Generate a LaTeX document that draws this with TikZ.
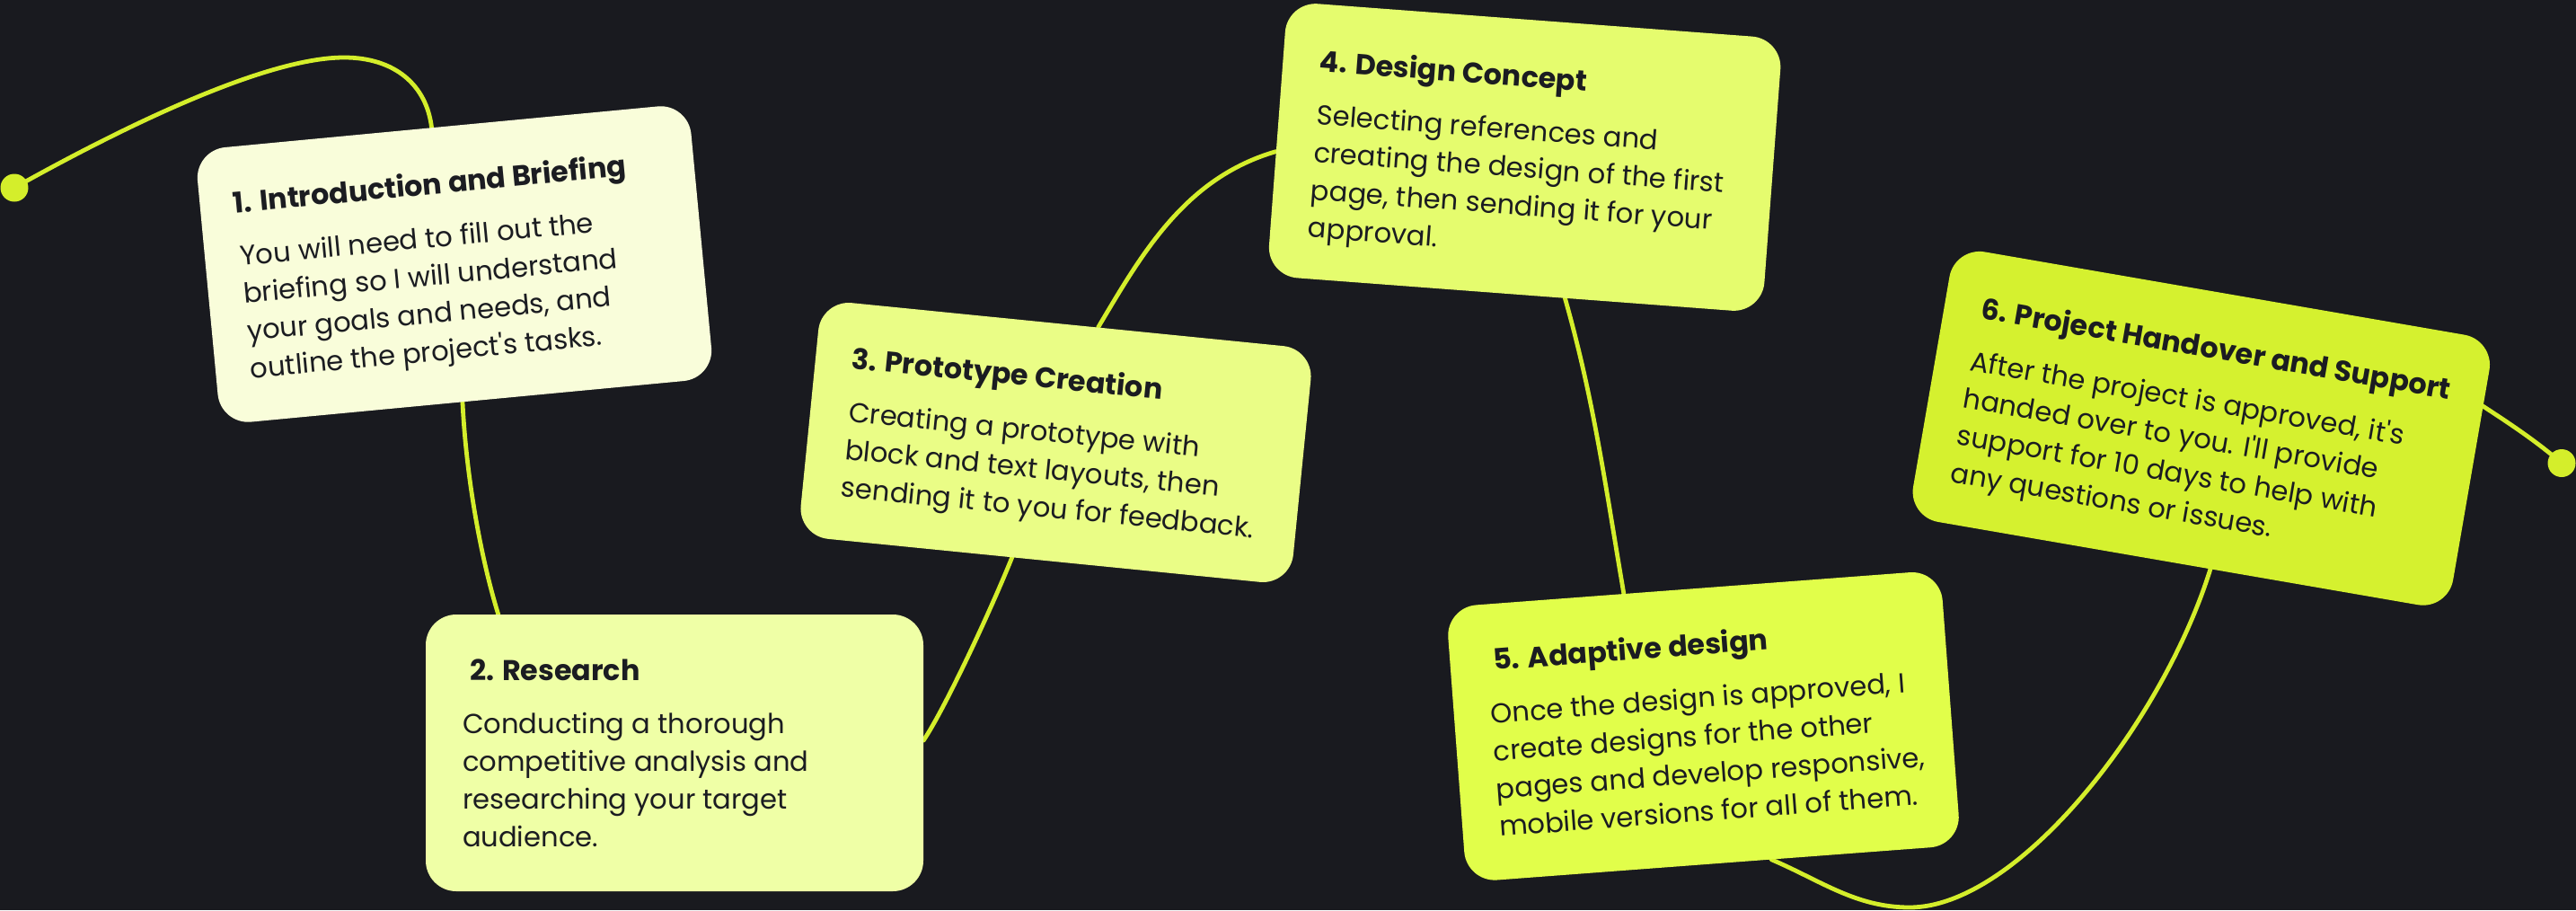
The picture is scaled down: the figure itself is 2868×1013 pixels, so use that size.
\documentclass[tikz,border=0pt]{standalone}
\usepackage{fontspec}
\setmainfont{Poppins}
\usetikzlibrary{calc}

\definecolor{canvas}{HTML}{191A1F}
\definecolor{wire}{HTML}{D4EE2B}
\definecolor{ink}{HTML}{1B1C21}
\definecolor{cardA}{HTML}{F9FDDA}
\definecolor{cardB}{HTML}{EFFFA6}
\definecolor{cardC}{HTML}{EAFD86}
\definecolor{cardD}{HTML}{E5FC6E}
\definecolor{cardE}{HTML}{E1FE4A}
\definecolor{cardF}{HTML}{D5F12F}

\pgfdeclarelayer{ground}
\pgfdeclarelayer{wires}
\pgfsetlayers{ground,wires,main}

% type sizes are derived from the widths the lines should occupy
\newlength\probe
\newlength\copysum
\newlength\headsum
\newcommand\addcopy[1]{\settowidth\probe{\fontsize{50}{50}\selectfont #1}\addtolength\copysum{\probe}}
\newcommand\addhead[1]{\settowidth\probe{\fontsize{50}{50}\selectfont\bfseries #1}\addtolength\headsum{\probe}}

% heading and copy of one card; baseline of the box = baseline of the heading
% #1 heading indent, #2 heading, #3 copy lines
\newcommand\cardtext[3]{\parbox[t]{540pt}{\raggedright
  \hspace*{#1}{\fontsize{\headsize}{\headsize}\selectfont\bfseries #2}\par
  \vskip 17pt
  {\fontsize{\copysize}{42}\selectfont #3\par}}}

\tikzset{
  card/.style={fill=#1, rounded corners=34pt, inner sep=0pt},
  cardcopy/.style={anchor=base west, inner sep=0pt, transform shape, text=ink},
  wire/.style={draw=wire, line width=4.8pt, line cap=round},
  knob/.style={circle, fill=wire, minimum size=31pt, inner sep=0pt},
}

\begin{document}
\setlength\copysum{0pt}\setlength\headsum{0pt}
\addcopy{Conducting a thorough}
\addcopy{competitive analysis and}
\addcopy{briefing so I will understand}
\addcopy{sending it to you for feedback.}
\addcopy{creating the design of the first}
\addcopy{pages and develop responsive,}
\addcopy{After the project is approved, it\textquotesingle s}
\addhead{1. Introduction and Briefing}
\addhead{2. Research}
\addhead{3. Prototype Creation}
\addhead{4. Design Concept}
\addhead{5. Adaptive design}
\addhead{6. Project Handover and Support}
\pgfmathsetmacro\copysize{3050.5/\the\copysum*50}
\pgfmathsetmacro\headsize{2112.5/\the\headsum*50}
\begin{tikzpicture}[x=1pt, y=-1pt]
  \begin{pgfonlayer}{ground}
    \fill[canvas] (0,0) rectangle (2868,1013);
  \end{pgfonlayer}
  \useasboundingbox (0,0) rectangle (2868,1013);

  % cards
  \node[card=cardA, minimum width=552pt, minimum height=307pt, rotate=5.4] (c1) at (506,294) {};
  \node[card=cardB, minimum width=554pt, minimum height=308pt] (c2) at (751,838) {};
  \node[card=cardC, minimum width=551pt, minimum height=264pt, rotate=-5.7] (c3) at (1175.5,492.5) {};
  \node[card=cardD, minimum width=553pt, minimum height=306pt, rotate=-4.3] (c4) at (1697.6,175) {};
  \node[card=cardE, minimum width=552pt, minimum height=307pt, rotate=4.3] (c5) at (1896.5,808.3) {};
  \node[card=cardF, minimum width=610pt, minimum height=305pt, rotate=-9.8] (c6) at (2450.8,476.8) {};

  % card texts, set in each card's own frame
  \begin{scope}[shift={(c1.north west)}, rotate=5.4]
    \node[cardcopy] (t1) at (39,74) {\cardtext{-2pt}{1. Introduction and Briefing}{You will need to fill out the\\briefing so I will understand\\your goals and needs, and\\outline the project\textquotesingle s tasks.}};
  \end{scope}
  \begin{scope}[shift={(c2.north west)}]
    \node[cardcopy] (t2) at (41,74) {\cardtext{8pt}{2. Research}{Conducting a thorough\\competitive analysis and\\researching your target\\audience.}};
  \end{scope}
  \begin{scope}[shift={(c3.north west)}, rotate=-5.7]
    \node[cardcopy] (t3) at (43,73) {\cardtext{-3pt}{3. Prototype Creation}{Creating a prototype with\\block and text layouts, then\\sending it to you for feedback.}};
  \end{scope}
  \begin{scope}[shift={(c4.north west)}, rotate=-4.3]
    \node[cardcopy] (t4) at (42,75) {\cardtext{-1pt}{4. Design Concept}{Selecting references and\\creating the design of the first\\page, then sending it for your\\approval.}};
  \end{scope}
  \begin{scope}[shift={(c5.north west)}, rotate=4.3]
    \node[cardcopy] (t5) at (41,74) {\cardtext{7pt}{5. Adaptive design}{Once the design is approved, I\\create designs for the other\\pages and develop responsive,\\mobile versions for all of them.}};
  \end{scope}
  \begin{scope}[shift={(c6.north west)}, rotate=-9.8]
    \node[cardcopy] (t6) at (39,74) {\cardtext{2pt}{6. Project Handover and Support}{After the project is approved, it\textquotesingle s\\handed over to you. I\textquotesingle ll provide\\support for 10 days to help with\\any questions or issues.}};
  \end{scope}

  % end points of the thread
  \node[knob] (dotL) at (16,209) {};
  \node[knob] (dotR) at (2852,515.5) {};

  % the thread, running behind the cards
  \begin{pgfonlayer}{wires}
    \draw[wire] (dotL.center) .. controls (150,134) and (300,64) .. (383,64)
      .. controls (440,64) and (475,95) .. ($(c1.north west)!0.48!(c1.north east)$);
    \draw[wire] ($(c1.south west)!0.49!(c1.south east)$) .. controls (519,530) and (535,620)
      .. ($(c2.north west)!0.146!(c2.north east)$);
    \draw[wire] ($(c2.north east)!0.455!(c2.south east)$) .. controls (1053,787) and (1104,677)
      .. ($(c3.south west)!0.435!(c3.south east)$);
    \draw[wire] ($(c3.north west)!0.562!(c3.north east)$) .. controls (1271,283) and (1319,198)
      .. ($(c4.north west)!0.547!(c4.south west)$);
    \draw[wire] ($(c4.south west)!0.602!(c4.south east)$) .. controls (1775,447) and (1787,539)
      .. ($(c5.north west)!0.36!(c5.north east)$);
    \draw[wire] ($(c5.south west)!0.6165!(c5.south east)$) .. controls (2027,980) and (2066,1010)
      .. (2126,1010) .. controls (2246,1010) and (2407,806) .. ($(c6.south west)!0.56!(c6.south east)$);
    \draw[wire] ($(c6.north east)!0.246!(c6.south east)$) .. controls (2795,472) and (2825,492)
      .. (dotR.center);
  \end{pgfonlayer}
\end{tikzpicture}
\end{document}
